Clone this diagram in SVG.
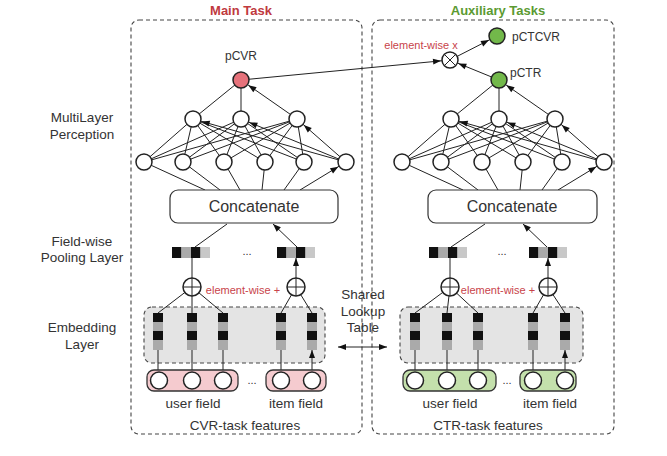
<svg xmlns="http://www.w3.org/2000/svg" width="667" height="456" viewBox="0 0 667 456">
<style>
text{font-family:"Liberation Sans",Arial,sans-serif;fill:#333}
.lbl{font-size:13.5px;text-anchor:middle}
.ttl{font-size:13px;font-weight:bold;text-anchor:middle}
.red{fill:#c8434a;font-size:11px;text-anchor:middle}
.e{stroke:#222;stroke-width:1;fill:none;marker-end:url(#a8)}
.e0{stroke:#222;stroke-width:1;fill:none;marker-end:url(#a0)}
.ln{stroke:#222;stroke-width:1;fill:none}
.n{fill:#fff;stroke:#222;stroke-width:1.5}
.box{fill:none;stroke:#444;stroke-width:1.1;stroke-dasharray:4 3}
.emb{fill:#e4e4e4;stroke:#444;stroke-width:1.1;stroke-dasharray:4 3}
.b{fill:#111}.g1{fill:#aaa}.g2{fill:#c8c8c8}
.pk{fill:#f5cbcf;stroke:#333;stroke-width:1.3}
.gr{fill:#c4e0ac;stroke:#333;stroke-width:1.3}
</style>
<defs>
<marker id="a8" markerUnits="userSpaceOnUse" markerWidth="8" markerHeight="6" viewBox="0 0 8 6" refX="17" refY="3" orient="auto" overflow="visible"><path d="M0,0 L8,3 L0,6 z" fill="#111"/></marker>
<marker id="a0" markerUnits="userSpaceOnUse" markerWidth="8" markerHeight="6" viewBox="0 0 8 6" refX="8" refY="3" orient="auto-start-reverse" overflow="visible"><path d="M0,0 L8,3 L0,6 z" fill="#111"/></marker>
<g id="vec"><rect class="b" x="0" y="0" width="9.5" height="11"/><rect class="g1" x="9.5" y="0" width="9.5" height="11"/><rect class="b" x="19" y="0" width="9.5" height="11"/><rect class="g2" x="28.5" y="0" width="9.5" height="11"/></g>
<g id="col"><rect class="b" x="-5" y="0" width="10" height="9"/><rect class="g1" x="-5" y="9" width="10" height="9"/><rect class="b" x="-5" y="18" width="10" height="9"/><rect class="g1" x="-5" y="27" width="10" height="10"/></g>
</defs>

<g id="frames">
<rect class="box" x="131" y="20" width="231" height="414" rx="8"/>
<rect class="box" x="372" y="20" width="242" height="414" rx="8"/>
<text class="ttl" x="241" y="15" style="fill:#c0393e">Main Task</text>
<text class="ttl" x="498" y="15" style="fill:#5b9a32">Auxiliary Tasks</text>
</g>

<g id="side-labels">
<text class="lbl" x="82" y="122">MultiLayer</text>
<text class="lbl" x="82" y="139">Perception</text>
<text class="lbl" x="82" y="246">Field-wise</text>
<text class="lbl" x="82" y="262">Pooling Layer</text>
<text class="lbl" x="82" y="332">Embedding</text>
<text class="lbl" x="82" y="349">Layer</text>
<text class="lbl" x="363" y="299">Shared</text>
<text class="lbl" x="363" y="316">Lookup</text>
<text class="lbl" x="363" y="332">Table</text>
</g>

<g id="emb-boxes">
<rect class="emb" x="144" y="307" width="181" height="56" rx="8"/>
<rect class="emb" x="400" y="307" width="183" height="56" rx="8"/>
</g>

<g id="connectors">
<path class="e" d="M144,162L193,119M183,162L193,119M224,162L193,119M265,162L193,119M304,162L193,119M346,162L193,119"/>
<path class="e" d="M144,162L241,119M183,162L241,119M224,162L241,119M265,162L241,119M304,162L241,119M346,162L241,119"/>
<path class="e" d="M144,162L297,119M183,162L297,119M224,162L297,119M265,162L297,119M304,162L297,119M346,162L297,119"/>
<path class="e" d="M193,119L241,80M241,119L241,80M297,119L241,80"/>
<path class="e" d="M205,190L144,162M220,190L183,162M240,190L224,162M262,190L265,162M284,190L304,162M300,190L346,162"/>
<path class="e" d="M402,162L451,119M441,162L451,119M482,162L451,119M523,162L451,119M562,162L451,119M604,162L451,119"/>
<path class="e" d="M402,162L499,119M441,162L499,119M482,162L499,119M523,162L499,119M562,162L499,119M604,162L499,119"/>
<path class="e" d="M402,162L555,119M441,162L555,119M482,162L555,119M523,162L555,119M562,162L555,119M604,162L555,119"/>
<path class="e" d="M451,119L499,80M499,119L499,80M555,119L499,80"/>
<path class="e" d="M463,190L402,162M478,190L441,162M498,190L482,162M520,190L523,162M542,190L562,162M558,190L604,162"/>
<path class="e" d="M241,80L450,60"/>
<path class="e" d="M499,80L450,60"/>
<path class="e" d="M450,60L497,36"/>
<path class="e0" d="M195,247L227,224M297,247L273,224"/>
<path class="e0" d="M451,247L485,224M547,247L523,224"/>
<path class="e0" d="M192,278L192,258M296,278L296,258"/>
<path class="e0" d="M450,278L450,258M548,278L548,258"/>
<path class="ln" d="M192,287L158,313M192,287L192,313M192,287L223,313M296,287L281,313M296,287L312,313"/>
<path class="ln" d="M450,287L415,313M450,287L447,313M450,287L478,313M548,287L533,313M548,287L565,313"/>
<path class="e0" d="M158,371L158,350M192,371L192,350M223,371L223,350M281,371L281,350M312,371L312,350"/>
<path class="e0" d="M415,371L415,350M447,371L447,350M478,371L478,350M533,371L533,350M565,371L565,350"/>
<path class="ln" d="M338,347L387,347" style="marker-start:url(#a0);marker-end:url(#a0)"/>
</g>

<g id="left-mlp">
<circle class="n" cx="144" cy="162" r="8"/><circle class="n" cx="183" cy="162" r="8"/><circle class="n" cx="224" cy="162" r="8"/><circle class="n" cx="265" cy="162" r="8"/><circle class="n" cx="304" cy="162" r="8"/><circle class="n" cx="346" cy="162" r="8"/>
<circle class="n" cx="193" cy="119" r="8"/><circle class="n" cx="241" cy="119" r="8"/><circle class="n" cx="297" cy="119" r="8"/>
</g>
<g id="pCVR"><circle cx="241" cy="80" r="8" fill="#e6727b" stroke="#222" stroke-width="1.5"/><text x="241" y="60" font-size="12" text-anchor="middle">pCVR</text></g>
<g id="right-mlp">
<circle class="n" cx="402" cy="162" r="8"/><circle class="n" cx="441" cy="162" r="8"/><circle class="n" cx="482" cy="162" r="8"/><circle class="n" cx="523" cy="162" r="8"/><circle class="n" cx="562" cy="162" r="8"/><circle class="n" cx="604" cy="162" r="8"/>
<circle class="n" cx="451" cy="119" r="8"/><circle class="n" cx="499" cy="119" r="8"/><circle class="n" cx="555" cy="119" r="8"/>
</g>
<g id="pCTR"><circle cx="499" cy="80" r="8" fill="#72b84a" stroke="#222" stroke-width="1.5"/><text x="510" y="77" font-size="12">pCTR</text></g>
<g id="pCTCVR"><circle cx="497" cy="36" r="8" fill="#72b84a" stroke="#222" stroke-width="1.5"/><text x="512" y="41" font-size="12">pCTCVR</text></g>
<g id="mult"><circle class="n" cx="450" cy="60" r="8"/><path class="ln" d="M444.3,54.3L455.7,65.7M455.7,54.3L444.3,65.7" stroke-width="1.5"/><text class="red" x="421" y="49">element-wise x</text></g>

<g id="left-concat"><rect x="170" y="190" width="168" height="33" rx="8" fill="#fff" stroke="#333" stroke-width="1.2"/><text x="254" y="212" font-size="16" text-anchor="middle">Concatenate</text></g>
<g id="right-concat"><rect x="428" y="190" width="169" height="33" rx="8" fill="#fff" stroke="#333" stroke-width="1.2"/><text x="512" y="212" font-size="16" text-anchor="middle">Concatenate</text></g>

<g id="left-pooling">
<use href="#vec" x="172" y="247"/><use href="#vec" x="277" y="247"/>
<text x="247" y="255" font-size="11" text-anchor="middle">...</text>
</g>
<g id="right-pooling">
<use href="#vec" x="429" y="247"/><use href="#vec" x="529" y="247"/>
<text x="502" y="255" font-size="11" text-anchor="middle">...</text>
</g>

<g id="left-sum">
<circle class="n" cx="192" cy="287" r="9"/><path class="ln" d="M183,287H201M192,278V296" stroke-width="1.5"/>
<circle class="n" cx="296" cy="287" r="9"/><path class="ln" d="M287,287H305M296,278V296" stroke-width="1.5"/>
<text class="red" x="243" y="294">element-wise +</text>
</g>
<g id="right-sum">
<circle class="n" cx="450" cy="287" r="9"/><path class="ln" d="M441,287H459M450,278V296" stroke-width="1.5"/>
<circle class="n" cx="548" cy="287" r="9"/><path class="ln" d="M539,287H557M548,278V296" stroke-width="1.5"/>
<text class="red" x="498" y="294">element-wise +</text>
</g>

<g id="left-embedding">
<use href="#col" x="158" y="313"/><use href="#col" x="192" y="313"/><use href="#col" x="223" y="313"/><use href="#col" x="281" y="313"/><use href="#col" x="312" y="313"/>
</g>
<g id="right-embedding">
<use href="#col" x="415" y="313"/><use href="#col" x="447" y="313"/><use href="#col" x="478" y="313"/><use href="#col" x="533" y="313"/><use href="#col" x="565" y="313"/>
</g>

<g id="cvr-features">
<rect class="pk" x="147" y="370" width="91" height="21" rx="7"/>
<rect class="pk" x="266" y="370" width="60" height="21" rx="7"/>
<circle class="n" cx="159" cy="380.5" r="8.5"/><circle class="n" cx="192" cy="380.5" r="8.5"/><circle class="n" cx="223" cy="380.5" r="8.5"/>
<circle class="n" cx="281" cy="380.5" r="8.5"/><circle class="n" cx="312" cy="380.5" r="8.5"/>
<text x="252" y="384" font-size="11" text-anchor="middle">...</text>
<text class="lbl" x="193" y="408">user field</text>
<text class="lbl" x="296" y="408">item field</text>
<text class="lbl" x="245" y="430">CVR-task features</text>
</g>
<g id="ctr-features">
<rect class="gr" x="403" y="370" width="93" height="21" rx="7"/>
<rect class="gr" x="520" y="370" width="56" height="21" rx="7"/>
<circle class="n" cx="415" cy="380.5" r="8.5"/><circle class="n" cx="447" cy="380.5" r="8.5"/><circle class="n" cx="478" cy="380.5" r="8.5"/>
<circle class="n" cx="533" cy="380.5" r="8.5"/><circle class="n" cx="565" cy="380.5" r="8.5"/>
<text x="507" y="384" font-size="11" text-anchor="middle">...</text>
<text class="lbl" x="450" y="408">user field</text>
<text class="lbl" x="550" y="408">item field</text>
<text class="lbl" x="488" y="430">CTR-task features</text>
</g>
</svg>
